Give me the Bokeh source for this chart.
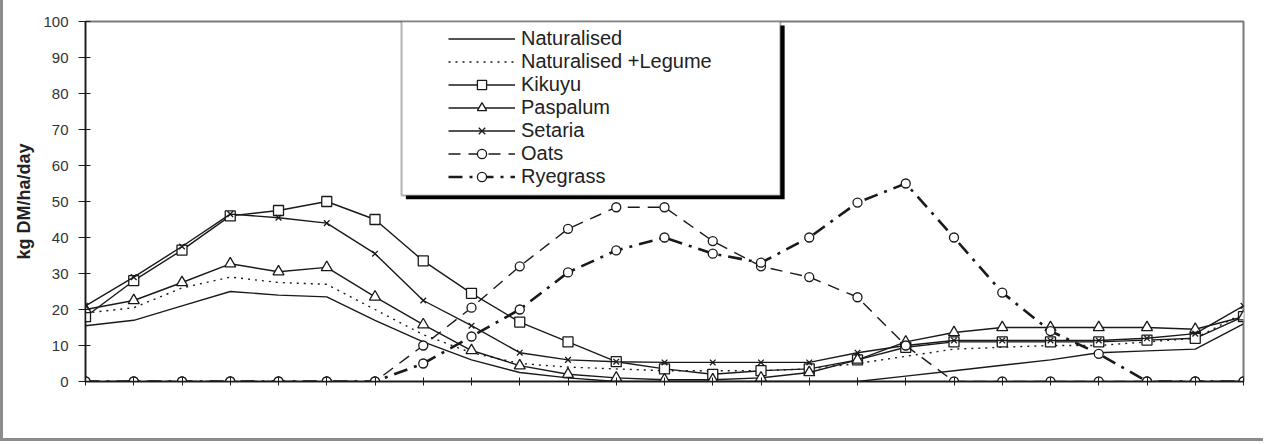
from bokeh.plotting import figure
from bokeh.models import Range1d, FixedTicker, Legend, LegendItem, BoxAnnotation
from bokeh.embed import file_html
from bokeh.resources import INLINE

periods = list(range(25))
naturalised = [15.5, 17, 21, 25, 24, 23.5, 17, 11, 6, 2.5, 1, 0, 0, 0, 0, 0, 0, 1.5, 3, 4.5, 6, 8, 8.5, 9, 16]
nat_legume = [19, 20.5, 26, 29, 27.5, 27, 20, 13, 8, 5, 4, 3.5, 3, 3, 3, 3.5, 5, 7, 9, 9.5, 10, 10, 11, 12, 19]
kikuyu = [18, 28, 36.5, 46, 47.5, 50, 45, 33.5, 24.5, 16.5, 11, 5.5, 3.5, 2, 3, 3.5, 6, 9.5, 11, 11, 11, 11, 11.5, 12, 18]
paspalum = [20, 22.5, 27.5, 32.7, 30.5, 31.7, 23.5, 15.8, 8.6, 4.4, 2, 1, 0.5, 0.5, 1, 2.5, 6, 11, 13.6, 15, 15, 15, 15, 14.5, 18]
setaria = [21, 29, 37.5, 46.5, 45.5, 44, 35.5, 22.5, 15.5, 8, 6, 5.5, 5.3, 5.3, 5.3, 5.3, 8, 10, 11.4, 11.4, 11.4, 11.4, 12, 13.3, 21]
oats = [0, 0, 0, 0, 0, 0, 0, 10, 20.5, 32, 42.4, 48.4, 48.4, 39, 32, 29, 23.4, 10, 0, 0, 0, 0, 0, 0, 0]
ryegrass = [0, 0, 0, 0, 0, 0, 0, 5, 12.5, 20, 30.3, 36.4, 40, 35.5, 33, 40, 49.7, 55, 40, 24.7, 14, 7.7, 0, 0, 0]
y_ticks = list(range(0, 101, 10))

FONT = "Liberation Sans"
INK = "#1a1a1a"

p = figure(width=1263, height=441, output_backend="svg", toolbar_location=None,
           x_range=Range1d(0, 24), y_range=Range1d(0, 100), title=None,
           min_border_left=82, min_border_right=23, min_border_top=21, min_border_bottom=60)
p.background_fill_color = "white"
p.border_fill_color = "white"
p.outline_line_color = "#7a7a7a"
p.outline_line_width = 2
p.xgrid.visible = False
p.ygrid.visible = False
p.styles = {"border-left": "3px solid #8c8c8c", "border-bottom": "3px solid #8c8c8c"}

p.xaxis.ticker = FixedTicker(ticks=periods)
p.xaxis.major_label_text_color = None
p.xaxis.major_tick_in = 4
p.xaxis.major_tick_out = 4
p.xaxis.minor_tick_line_color = None
p.xaxis.axis_line_width = 1.5
p.xaxis.axis_line_color = INK
p.xaxis.major_tick_line_color = INK

p.yaxis.ticker = FixedTicker(ticks=y_ticks)
p.yaxis.major_tick_in = 5
p.yaxis.major_tick_out = 7
p.yaxis.minor_tick_line_color = None
p.yaxis.axis_line_width = 1.5
p.yaxis.axis_line_color = INK
p.yaxis.major_tick_line_color = INK
p.yaxis.major_label_text_font = FONT
p.yaxis.major_label_text_font_size = "15px"
p.yaxis.major_label_text_color = "#333333"
p.yaxis.major_label_standoff = 10
p.yaxis.axis_label = "kg DM/ha/day"
p.yaxis.axis_label_text_font = FONT
p.yaxis.axis_label_text_font_size = "18px"
p.yaxis.axis_label_text_font_style = "bold"
p.yaxis.axis_label_text_color = "#222222"
p.yaxis.axis_label_standoff = 6

lw = 1.4
r_nat = p.line(periods, naturalised, line_color=INK, line_width=lw)
r_nl = p.line(periods, nat_legume, line_color=INK, line_width=lw, line_dash="2 5")
r_kik = p.line(periods, kikuyu, line_color=INK, line_width=lw)
m_kik = p.scatter(periods, kikuyu, marker="square", size=10, fill_color="white", line_color=INK, line_width=1.3)
r_pas = p.line(periods, paspalum, line_color=INK, line_width=lw)
m_pas = p.scatter(periods, paspalum, marker="triangle", size=11, fill_color="white", line_color=INK, line_width=1.3)
r_set = p.line(periods, setaria, line_color=INK, line_width=lw)
m_set = p.scatter(periods, setaria, marker="x", size=8, line_color=INK, line_width=1.3)
r_oat = p.line(periods, oats, line_color=INK, line_width=lw, line_dash="12 8")
m_oat = p.scatter(periods, oats, marker="circle", size=9, fill_color="white", line_color=INK, line_width=1.3)
r_rye = p.line(periods, ryegrass, line_color=INK, line_width=2.6, line_dash="14 7 3 7")
m_rye = p.scatter(periods, ryegrass, marker="circle", size=9, fill_color="white", line_color=INK, line_width=1.3)

# legend box with shadow
shadow = BoxAnnotation(left=6.55 + 0.09, right=14.40 + 0.09, top=100 - 1.1, bottom=51.7 - 1.1,
                       fill_color="black", fill_alpha=1, line_color=None)
box = BoxAnnotation(left=6.55, right=14.40, top=100, bottom=51.7,
                    fill_color="white", fill_alpha=1, line_color="black", line_width=2)
p.add_layout(shadow)
p.add_layout(box)

legend = Legend(items=[
    LegendItem(label="Naturalised", renderers=[r_nat]),
    LegendItem(label="Naturalised +Legume", renderers=[r_nl]),
    LegendItem(label="Kikuyu", renderers=[r_kik, m_kik]),
    LegendItem(label="Paspalum", renderers=[r_pas, m_pas]),
    LegendItem(label="Setaria", renderers=[r_set, m_set]),
    LegendItem(label="Oats", renderers=[r_oat, m_oat]),
    LegendItem(label="Ryegrass", renderers=[r_rye, m_rye]),
], location=(363, 193), glyph_width=67, glyph_height=23, label_height=23, spacing=0,
    padding=0, margin=0, label_standoff=6, background_fill_alpha=0, border_line_color=None,
    label_text_font=FONT, label_text_font_size="20px", label_text_color="#222222")
p.add_layout(legend)

open("out.html", "w").write(file_html(p, INLINE))
